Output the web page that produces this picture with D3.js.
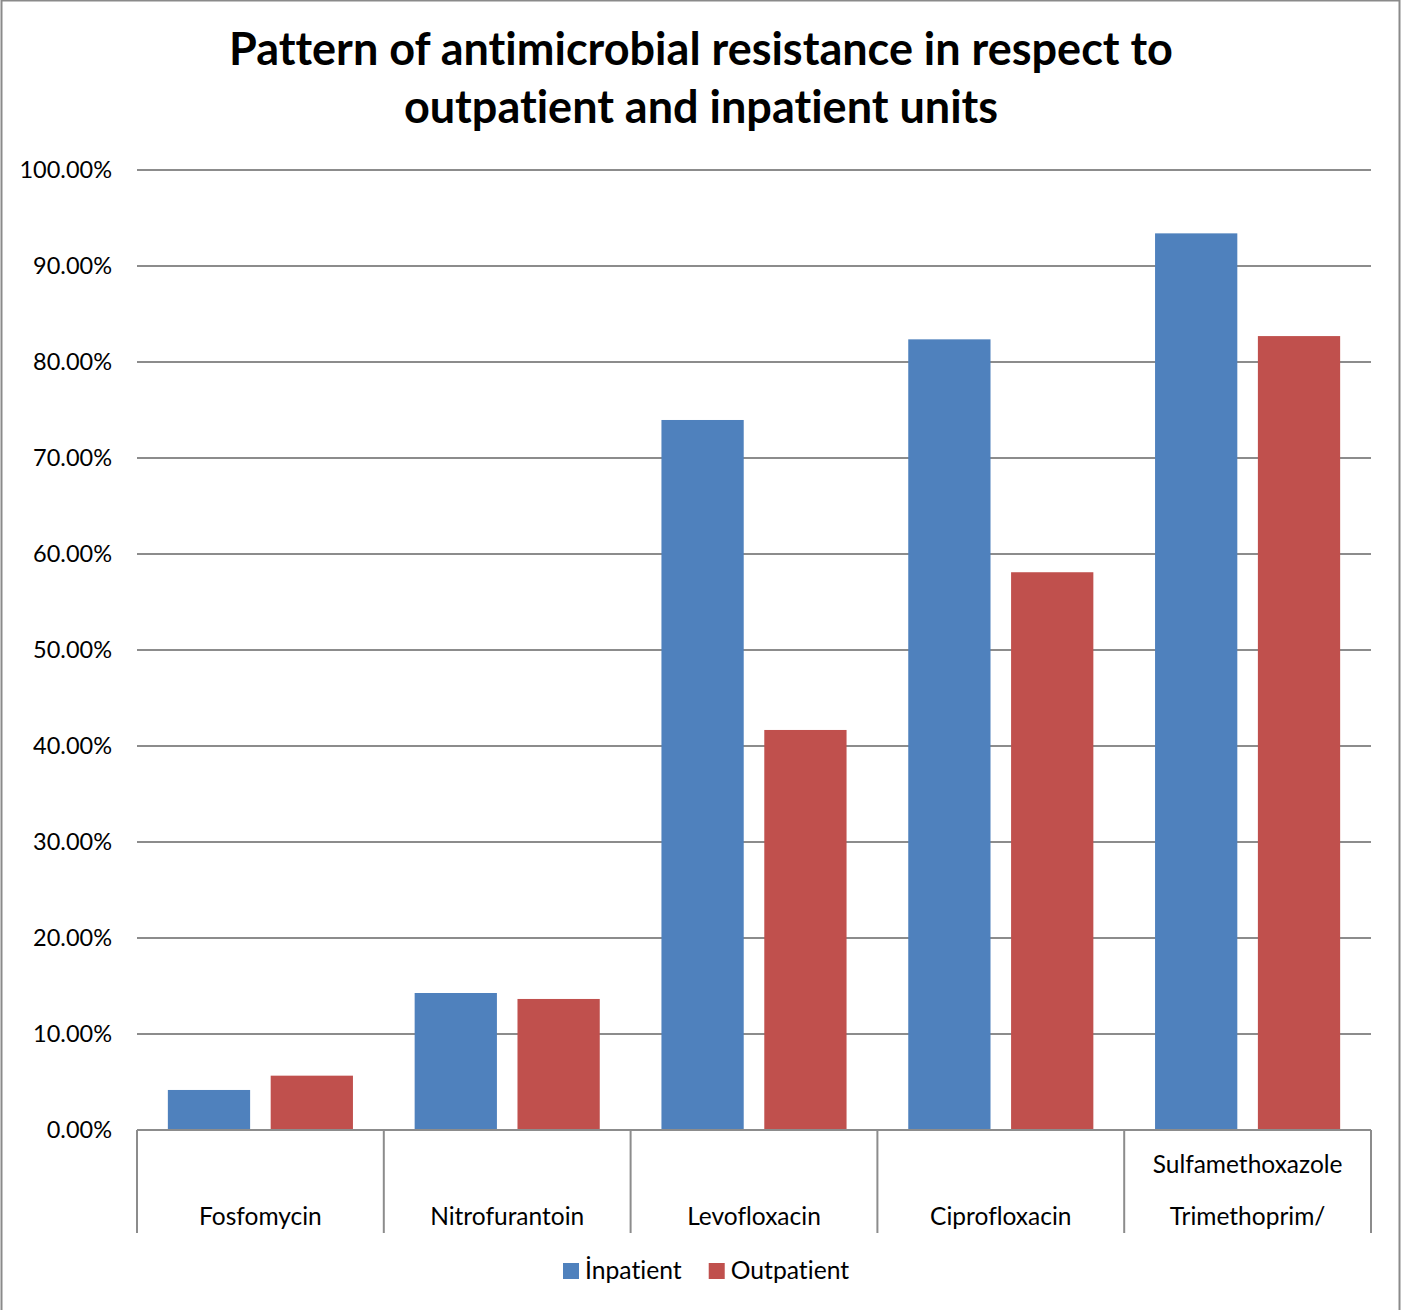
<!DOCTYPE html>
<html>
<head>
<meta charset="utf-8">
<script src="https://cdn.jsdelivr.net/npm/d3@7"></script>
<style>
  body { margin: 0; background: #fff; }
  svg { display: block; font-family: Lato, "Open Sans", sans-serif; font-variant-ligatures: none; }
</style>
</head>
<body>
<div id="canvas"></div>
<script>
const titleLines = ["Pattern of antimicrobial resistance in respect to", "outpatient and inpatient units"];
const categories = ["Fosfomycin", "Nitrofurantoin", "Levofloxacin", "Ciprofloxacin", "Trimethoprim/ Sulfamethoxazole"];
const categoryLines = [["Fosfomycin"], ["Nitrofurantoin"], ["Levofloxacin"], ["Ciprofloxacin"], ["Sulfamethoxazole", "Trimethoprim/"]];
const seriesNames = ["İnpatient", "Outpatient"];
const inpatient = [4.17, 14.27, 73.96, 82.36, 93.4];
const outpatient = [5.66, 13.65, 41.67, 58.1, 82.7];
const yTicks = [0, 10, 20, 30, 40, 50, 60, 70, 80, 90, 100];
const colors = ["#4F81BD", "#C0504D"];

const width = 1401, height = 1310;
const margin = { left: 137, right: 30, top: 170, bottom: 180 };

const svg = d3.select("#canvas").append("svg")
  .attr("width", width)
  .attr("height", height);

// outer chart border
svg.append("rect")
  .attr("x", 1.5).attr("y", 0.5)
  .attr("width", width - 3).attr("height", height + 20)
  .attr("fill", "none")
  .attr("stroke", "#8a8a8a")
  .attr("stroke-width", 2);

svg.append("g").selectAll("text").data(titleLines).enter()
  .append("text")
  .attr("x", 701)
  .attr("y", (d, i) => 65 + i * 58)
  .attr("text-anchor", "middle")
  .attr("font-weight", "bold")
  .attr("font-size", 45)
  .attr("fill", "#000")
  .text(d => d);

const x0 = d3.scaleBand()
  .domain(categories)
  .range([margin.left, width - margin.right]);

const x1 = d3.scaleBand()
  .domain(seriesNames)
  .range([0, x0.bandwidth()])
  .paddingInner(0.2)
  .paddingOuter(0.3);

const y = d3.scaleLinear()
  .domain([0, 100])
  .range([height - margin.bottom, margin.top]);

// gridlines
svg.append("g").selectAll("line").data(yTicks.filter(t => t > 0)).enter()
  .append("line")
  .attr("x1", margin.left).attr("x2", width - margin.right)
  .attr("y1", d => y(d)).attr("y2", d => y(d))
  .attr("stroke", "#8c8c8c")
  .attr("stroke-width", 2);

// y tick labels
svg.append("g").selectAll("text").data(yTicks).enter()
  .append("text")
  .attr("x", 112)
  .attr("y", d => y(d) + 8)
  .attr("text-anchor", "end")
  .attr("font-size", 23.5)
  .attr("fill", "#000")
  .text(d => d.toFixed(2) + "%");

// bars
const rows = categories.map((c, i) => ({ cat: c, values: [inpatient[i], outpatient[i]] }));
const groups = svg.append("g").selectAll("g").data(rows).enter()
  .append("g")
  .attr("transform", d => `translate(${x0(d.cat)},0)`);

groups.selectAll("rect")
  .data(d => d.values.map((v, i) => ({ name: seriesNames[i], value: v, i })))
  .enter()
  .append("rect")
  .attr("x", d => x1(d.name))
  .attr("y", d => y(d.value))
  .attr("width", x1.bandwidth())
  .attr("height", d => y(0) - y(d.value))
  .attr("fill", d => colors[d.i]);

// category axis with boxed labels
const axisY = y(0);
const axisG = svg.append("g");
axisG.append("line")
  .attr("x1", margin.left).attr("x2", width - margin.right)
  .attr("y1", axisY).attr("y2", axisY)
  .attr("stroke", "#8c8c8c").attr("stroke-width", 2);

const bounds = categories.map(c => x0(c)).concat([width - margin.right]);
axisG.selectAll("line.tick").data(bounds).enter()
  .append("line")
  .attr("class", "tick")
  .attr("x1", d => d).attr("x2", d => d)
  .attr("y1", axisY).attr("y2", axisY + 103)
  .attr("stroke", "#8c8c8c").attr("stroke-width", 2);

categories.forEach((c, i) => {
  const lines = categoryLines[i];
  axisG.selectAll(null).data(lines).enter()
    .append("text")
    .attr("x", x0(c) + x0.bandwidth() / 2)
    .attr("y", (d, j) => axisY + 95 - (lines.length - 1 - j) * 52)
    .attr("text-anchor", "middle")
    .attr("font-size", 24.5)
    .attr("fill", "#000")
    .text(d => d);
});

// legend
const legend = svg.append("g");
let lx = 563;
seriesNames.forEach((s, i) => {
  legend.append("rect")
    .attr("x", lx).attr("y", 1263)
    .attr("width", 16).attr("height", 16)
    .attr("fill", colors[i]);
  const t = legend.append("text")
    .attr("x", lx + 22).attr("y", 1279)
    .attr("font-size", 24.7)
    .attr("fill", "#000")
    .text(s);
  lx += 22 + t.node().getComputedTextLength() + 27;
});
</script>
</body>
</html>
